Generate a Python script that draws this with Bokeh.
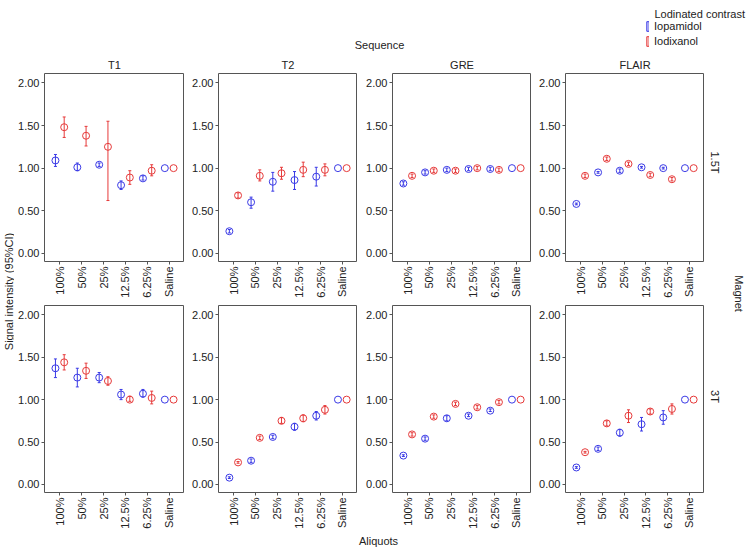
import numpy as np
from bokeh.plotting import figure
from bokeh.models import (ColumnDataSource, Whisker, TeeHead, FixedTicker,
                          NumeralTickFormatter, Range1d, Legend, LegendItem)
from bokeh.layouts import row, column
from bokeh.core.properties import value
from bokeh.embed import file_html
from bokeh.resources import INLINE

# ---------------- data ----------------
categories = ["100%", "50%", "25%", "12.5%", "6.25%", "Saline"]
sequences = ["T1", "T2", "GRE", "FLAIR"]
magnets = ["1.5T", "3T"]
contrasts = ["Iopamidol", "Iodixanol"]
y_ticks = [0.0, 0.5, 1.0, 1.5, 2.0]

# 1.5T
iop_15_T1 = [1.09, 1.01, 1.04, 0.80, 0.88, 1.00]
iop_15_T1_lo = [1.02, 0.97, 1.02, 0.75, 0.86, 1.00]
iop_15_T1_hi = [1.16, 1.06, 1.06, 0.85, 0.91, 1.00]
iod_15_T1 = [1.48, 1.38, 1.25, 0.89, 0.97, 1.00]
iod_15_T1_lo = [1.36, 1.26, 0.62, 0.81, 0.91, 1.00]
iod_15_T1_hi = [1.60, 1.49, 1.55, 0.97, 1.04, 1.00]

iop_15_T2 = [0.26, 0.60, 0.84, 0.86, 0.90, 1.00]
iop_15_T2_lo = [0.24, 0.53, 0.73, 0.75, 0.79, 1.00]
iop_15_T2_hi = [0.28, 0.66, 0.95, 0.96, 1.01, 1.00]
iod_15_T2 = [0.68, 0.91, 0.94, 0.98, 0.98, 1.00]
iod_15_T2_lo = [0.65, 0.85, 0.87, 0.90, 0.91, 1.00]
iod_15_T2_hi = [0.71, 0.98, 1.01, 1.07, 1.05, 1.00]

iop_15_GRE = [0.82, 0.95, 0.98, 0.99, 0.99, 1.00]
iop_15_GRE_lo = [0.80, 0.93, 0.96, 0.97, 0.97, 1.00]
iop_15_GRE_hi = [0.84, 0.97, 1.00, 1.01, 1.01, 1.00]
iod_15_GRE = [0.91, 0.97, 0.97, 1.00, 0.98, 1.00]
iod_15_GRE_lo = [0.89, 0.95, 0.95, 0.98, 0.96, 1.00]
iod_15_GRE_hi = [0.93, 0.99, 0.99, 1.02, 1.00, 1.00]

iop_15_FLAIR = [0.58, 0.95, 0.97, 1.01, 1.00, 1.00]
iop_15_FLAIR_lo = [0.57, 0.94, 0.95, 1.00, 0.99, 1.00]
iop_15_FLAIR_hi = [0.59, 0.96, 0.99, 1.02, 1.01, 1.00]
iod_15_FLAIR = [0.91, 1.11, 1.05, 0.92, 0.87, 1.00]
iod_15_FLAIR_lo = [0.89, 1.09, 1.03, 0.90, 0.85, 1.00]
iod_15_FLAIR_hi = [0.93, 1.13, 1.07, 0.94, 0.89, 1.00]

# 3T
iop_3_T1 = [1.37, 1.26, 1.26, 1.06, 1.07, 1.00]
iop_3_T1_lo = [1.26, 1.15, 1.20, 1.00, 1.03, 1.00]
iop_3_T1_hi = [1.48, 1.37, 1.32, 1.12, 1.12, 1.00]
iod_3_T1 = [1.44, 1.34, 1.22, 1.00, 1.02, 1.00]
iod_3_T1_lo = [1.35, 1.25, 1.17, 0.98, 0.95, 1.00]
iod_3_T1_hi = [1.53, 1.43, 1.27, 1.04, 1.10, 1.00]

iop_3_T2 = [0.08, 0.28, 0.56, 0.68, 0.81, 1.00]
iop_3_T2_lo = [0.07, 0.26, 0.54, 0.64, 0.76, 1.00]
iop_3_T2_hi = [0.09, 0.30, 0.58, 0.72, 0.86, 1.00]
iod_3_T2 = [0.26, 0.55, 0.75, 0.78, 0.88, 1.00]
iod_3_T2_lo = [0.25, 0.53, 0.72, 0.74, 0.83, 1.00]
iod_3_T2_hi = [0.27, 0.57, 0.79, 0.82, 0.93, 1.00]

iop_3_GRE = [0.34, 0.54, 0.78, 0.81, 0.87, 1.00]
iop_3_GRE_lo = [0.33, 0.52, 0.75, 0.80, 0.86, 1.00]
iop_3_GRE_hi = [0.35, 0.56, 0.81, 0.83, 0.89, 1.00]
iod_3_GRE = [0.59, 0.80, 0.95, 0.91, 0.97, 1.00]
iod_3_GRE_lo = [0.57, 0.78, 0.93, 0.89, 0.95, 1.00]
iod_3_GRE_hi = [0.61, 0.82, 0.97, 0.93, 0.99, 1.00]

iop_3_FLAIR = [0.20, 0.42, 0.61, 0.71, 0.79, 1.00]
iop_3_FLAIR_lo = [0.19, 0.40, 0.57, 0.63, 0.71, 1.00]
iop_3_FLAIR_hi = [0.21, 0.44, 0.65, 0.79, 0.87, 1.00]
iod_3_FLAIR = [0.38, 0.72, 0.81, 0.86, 0.89, 1.00]
iod_3_FLAIR_lo = [0.37, 0.69, 0.73, 0.83, 0.83, 1.00]
iod_3_FLAIR_hi = [0.39, 0.75, 0.88, 0.89, 0.95, 1.00]

panels = {
    ("1.5T", "T1"): [(iop_15_T1, iop_15_T1_lo, iop_15_T1_hi), (iod_15_T1, iod_15_T1_lo, iod_15_T1_hi)],
    ("1.5T", "T2"): [(iop_15_T2, iop_15_T2_lo, iop_15_T2_hi), (iod_15_T2, iod_15_T2_lo, iod_15_T2_hi)],
    ("1.5T", "GRE"): [(iop_15_GRE, iop_15_GRE_lo, iop_15_GRE_hi), (iod_15_GRE, iod_15_GRE_lo, iod_15_GRE_hi)],
    ("1.5T", "FLAIR"): [(iop_15_FLAIR, iop_15_FLAIR_lo, iop_15_FLAIR_hi), (iod_15_FLAIR, iod_15_FLAIR_lo, iod_15_FLAIR_hi)],
    ("3T", "T1"): [(iop_3_T1, iop_3_T1_lo, iop_3_T1_hi), (iod_3_T1, iod_3_T1_lo, iod_3_T1_hi)],
    ("3T", "T2"): [(iop_3_T2, iop_3_T2_lo, iop_3_T2_hi), (iod_3_T2, iod_3_T2_lo, iod_3_T2_hi)],
    ("3T", "GRE"): [(iop_3_GRE, iop_3_GRE_lo, iop_3_GRE_hi), (iod_3_GRE, iod_3_GRE_lo, iod_3_GRE_hi)],
    ("3T", "FLAIR"): [(iop_3_FLAIR, iop_3_FLAIR_lo, iop_3_FLAIR_hi), (iod_3_FLAIR, iod_3_FLAIR_lo, iod_3_FLAIR_hi)],
}

# ---------------- style / layout ----------------
FONT = "Liberation Sans"
FS = "11px"
TXT = "#222222"
COLORS = ["#3a3ae6", "#e63a3a"]
DODGE = [-0.2, 0.2]

W = 748
HEADER_H = 73
FRAME_H = 188
ROW_BOTTOM = [44, 38]
FOOTER_H = 20
YLAB_W = 14
SIDE_W = 44
LEFT_B = [30, 34, 35, 34]
FRAME_W = [140, 139, 139, 139]


def text_fig(w, h):
    f = figure(width=w, height=h, x_range=Range1d(0, w), y_range=Range1d(0, h),
               x_axis_type=None, y_axis_type=None, toolbar_location=None,
               output_backend="svg", min_border=0, outline_line_color=None,
               title=None)
    f.min_border_left = f.min_border_right = f.min_border_top = f.min_border_bottom = 0
    return f


def make_panel(mi, si):
    lb, fw, bb = LEFT_B[si], FRAME_W[si], ROW_BOTTOM[mi]
    p = figure(width=lb + fw, height=FRAME_H + bb,
               x_range=Range1d(-0.7, 5.7), y_range=Range1d(-0.095, 2.11),
               toolbar_location=None, output_backend="svg", title=None,
               min_border_left=lb, min_border_right=0, min_border_top=0,
               min_border_bottom=bb)
    p.xgrid.visible = False
    p.ygrid.visible = False
    p.outline_line_color = "#555555"

    xa, ya = p.xaxis[0], p.yaxis[0]
    xa.ticker = FixedTicker(ticks=list(range(len(categories))))
    xa.major_label_overrides = {i: c for i, c in enumerate(categories)}
    xa.major_label_orientation = np.pi / 2
    ya.ticker = FixedTicker(ticks=y_ticks)
    ya.formatter = NumeralTickFormatter(format="0.00")
    for ax in (xa, ya):
        ax.axis_line_color = None
        ax.major_tick_out = 3
        ax.major_tick_in = 0
        ax.major_tick_line_color = "#555555"
        ax.minor_tick_line_color = None
        ax.major_label_standoff = 2
        ax.major_label_text_font = FONT
        ax.major_label_text_font_size = FS
        ax.major_label_text_color = TXT

    idx = np.arange(len(categories))
    for ci, (mean, lo, hi) in enumerate(panels[(magnets[mi], sequences[si])]):
        x = idx + DODGE[ci]
        src = ColumnDataSource(dict(x=x, y=mean, lo=lo, hi=hi))
        keep = [k for k in range(len(mean)) if hi[k] > lo[k]]
        wsrc = ColumnDataSource(dict(x=x[keep], lo=[lo[k] for k in keep],
                                     hi=[hi[k] for k in keep]))
        w = Whisker(base="x", lower="lo", upper="hi", source=wsrc,
                    line_color=COLORS[ci], line_width=1, level="glyph",
                    upper_head=TeeHead(size=3, line_color=COLORS[ci], line_width=1),
                    lower_head=TeeHead(size=3, line_color=COLORS[ci], line_width=1))
        p.add_layout(w)
        p.scatter("x", "y", source=src, marker="circle", size=7,
                  fill_alpha=0, line_color=COLORS[ci], line_width=1)
    return p


# panel frame centres (page x) for titles
frame_left = []
xpos = YLAB_W
for si in range(4):
    frame_left.append(xpos + LEFT_B[si])
    xpos += LEFT_B[si] + FRAME_W[si]
col_centers = [frame_left[si] + FRAME_W[si] / 2 for si in range(4)]

# ---------------- header ----------------
header = text_fig(W, HEADER_H)
header.text(x=[379], y=[HEADER_H - 44], text=["Sequence"], text_align="center",
            text_baseline="middle", text_font=value(FONT), text_font_size=FS,
            text_color=TXT)
header.text(x=col_centers, y=[HEADER_H - 64] * 4, text=sequences,
            text_align="center", text_baseline="middle", text_font=value(FONT),
            text_font_size=FS, text_color=TXT)
header.text(x=[654], y=[HEADER_H - 13], text=["Lodinated contrast"],
            text_align="left", text_baseline="middle", text_font=value(FONT),
            text_font_size=FS, text_color=TXT)
leg_items = []
for ci, name in enumerate(contrasts):
    r = header.vbar(x=[np.nan], top=[np.nan], width=0.1, fill_color=COLORS[ci],
                    line_color=COLORS[ci], fill_alpha=0.25, line_width=1)
    leg_items.append(LegendItem(label=name, renderers=[r]))
legend = Legend(items=leg_items, location=(646, HEADER_H - 48), padding=0,
                spacing=1, glyph_width=3, glyph_height=12, label_height=14,
                label_standoff=5, label_text_font=FONT, label_text_font_size=FS,
                label_text_color=TXT, border_line_color=None,
                background_fill_alpha=0, margin=0)
header.add_layout(legend)

# ---------------- middle ----------------
MID_H = sum(FRAME_H + b for b in ROW_BOTTOM)
ylab = text_fig(YLAB_W, MID_H)
ylab.text(x=[8], y=[MID_H - 218], text=["Signal intensity (95%CI)"],
          angle=np.pi / 2, text_align="center", text_baseline="middle",
          text_font=value(FONT), text_font_size=FS, text_color=TXT)

side = text_fig(SIDE_W, MID_H)
row_centers = [FRAME_H / 2 - 5, FRAME_H + ROW_BOTTOM[0] + FRAME_H / 2 - 3]
side.text(x=[10, 10], y=[MID_H - c for c in row_centers], text=magnets,
          angle=-np.pi / 2, text_align="center", text_baseline="middle",
          text_font=value(FONT), text_font_size=FS, text_color=TXT)
side.text(x=[34], y=[MID_H - 220], text=["Magnet"], angle=-np.pi / 2,
          text_align="center", text_baseline="middle", text_font=value(FONT),
          text_font_size=FS, text_color=TXT)

grid_rows = [row(*[make_panel(mi, si) for si in range(4)], spacing=0)
             for mi in range(2)]
middle = row(ylab, column(*grid_rows, spacing=0), side, spacing=0)

# ---------------- footer ----------------
footer = text_fig(W, FOOTER_H)
footer.text(x=[378], y=[FOOTER_H - 9], text=["Aliquots"], text_align="center",
            text_baseline="middle", text_font=value(FONT), text_font_size=FS,
            text_color=TXT)

layout = column(header, middle, footer, spacing=0)

open("out.html", "w").write(file_html(layout, INLINE))
